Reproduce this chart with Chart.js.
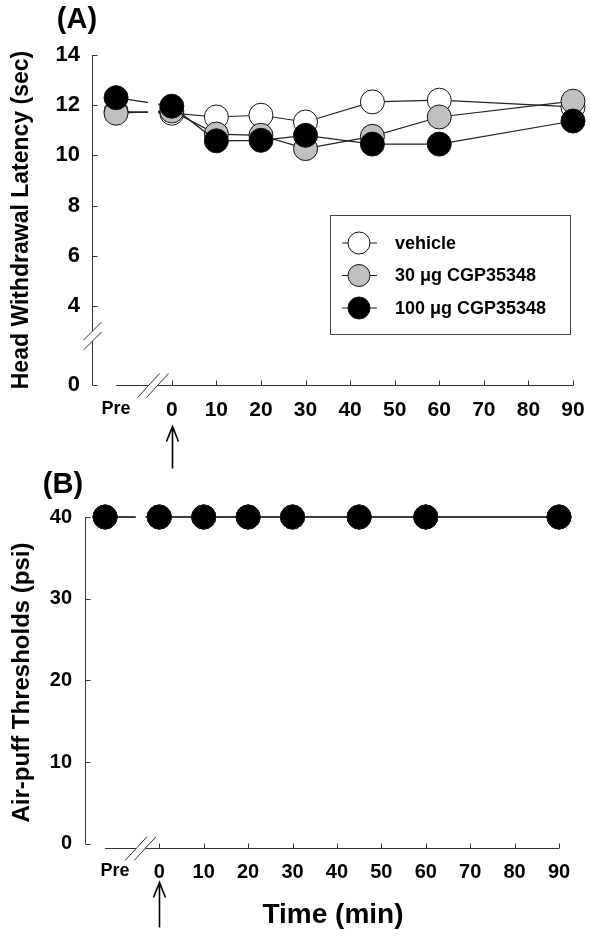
<!DOCTYPE html>
<html>
<head>
<meta charset="utf-8">
<title>CGP35348 - latency and air-puff thresholds</title>
<script src="https://cdn.jsdelivr.net/npm/chart.js@4"></script>
<style>
  body { margin: 0; background: #fff; }
  #wrap { position: relative; width: 598px; height: 936px; }
  #chartA { position: absolute; left: 0; top: 0; }
  #chartB { position: absolute; left: 0; top: 460px; }
</style>
</head>
<body>
<div id="wrap">
  <canvas id="chartA" width="598" height="475"></canvas>
  <canvas id="chartB" width="598" height="476"></canvas>
</div>

<script>
const FONT = "Arial, 'Liberation Sans', Helvetica, sans-serif";

// time points (min); "Pre" sits left of the broken x axis
const timePoints = ['Pre', 0, 10, 20, 30, 45, 60, 90];
const xTicks = [0, 10, 20, 30, 40, 50, 60, 70, 80, 90];
const seriesNames = ['vehicle', '30 \u03bcg CGP35348', '100 \u03bcg CGP35348'];

// (A) head withdrawal latency (sec)
const vehicleA = [11.75, 11.68, 11.53, 11.6, 11.33, 12.13, 12.2, 11.93];
const cgp30A = [11.68, 11.77, 10.85, 10.8, 10.27, 10.76, 11.53, 12.16];
const cgp100A = [12.3, 11.96, 10.58, 10.6, 10.8, 10.45, 10.45, 11.37];
const yTicksA = [0, 4, 6, 8, 10, 12, 14];

// (B) air-puff thresholds (psi)
const vehicleB = [40, 40, 40, 40, 40, 40, 40, 40];
const cgp30B = [40, 40, 40, 40, 40, 40, 40, 40];
const cgp100B = [40, 40, 40, 40, 40, 40, 40, 40];
const yTicksB = [0, 10, 20, 30, 40];

// axis layout (minutes on the x scale, values on the y scale)
const PRE_A = -12.5, PRE_B = -12.2, PRE_LABEL_B = -10;
const X_BREAK = -4.2;
const Y_ZERO_A = 0.85;   // where "0" sits on the truncated y axis of (A)
const Y_BREAK_A = 2.8;

const fills = ['#ffffff', '#c0c0c0', '#000000'];

function series(i, values, pre) {
  return {
    label: seriesNames[i],
    data: values.map((v, k) => ({ x: timePoints[k] === 'Pre' ? pre : timePoints[k], y: v })),
    borderColor: '#222',
    borderWidth: 1.2,
    backgroundColor: fills[i],
    pointBackgroundColor: fills[i],
    pointBorderColor: '#111',
    pointBorderWidth: 1,
    pointRadius: 12,
    pointHoverRadius: 12,
    tension: 0,
    clip: false,
    order: 2 - i   // black drawn last, on top
  };
}

const brokenAxes = {
  id: 'brokenAxes',
  beforeDatasetsDraw(chart, args, o) {
    // leave a gap in the lines where the x axis is broken
    const bx = chart.scales.x.getPixelForValue(X_BREAK);
    chart.ctx.save();
    chart.ctx.beginPath();
    chart.ctx.rect(0, 0, bx - 5, chart.height);
    chart.ctx.rect(bx + 5, 0, chart.width, chart.height);
    chart.ctx.clip();
  },
  afterDatasetsDraw(chart) {
    chart.ctx.restore();
  },
  afterDraw(chart, args, o) {
    const { ctx, chartArea: a, scales: { x, y } } = chart;
    ctx.save();
    ctx.strokeStyle = '#333';
    ctx.lineWidth = 1;

    // y axis with inward ticks
    const ax = Math.round(a.left) + 0.5;
    const yTop = y.getPixelForValue(o.yTicks[o.yTicks.length - 1]);
    const yBot = y.getPixelForValue(o.yTicks[0]);
    ctx.beginPath();
    let by = null;
    if (o.yBreak != null) {
      by = y.getPixelForValue(o.yBreak);
      ctx.moveTo(ax, yTop); ctx.lineTo(ax, by - 5);
      ctx.moveTo(ax, by + 5); ctx.lineTo(ax, yBot);
    } else {
      ctx.moveTo(ax, yTop); ctx.lineTo(ax, yBot);
    }
    o.yTicks.forEach(v => {
      const py = Math.round(y.getPixelForValue(v)) + 0.5;
      ctx.moveTo(ax, py); ctx.lineTo(ax + 5, py);
    });

    // x axis, starting at "Pre", broken before 0
    const axY = Math.round(y.getPixelForValue(o.xAxisAt)) + 0.5;
    const x0 = x.getPixelForValue(o.xStart);
    const x1 = x.getPixelForValue(xTicks[xTicks.length - 1]);
    const bx = x.getPixelForValue(X_BREAK);
    ctx.moveTo(x0, axY); ctx.lineTo(bx - 4.5, axY);
    ctx.moveTo(bx + 4.5, axY); ctx.lineTo(x1, axY);
    xTicks.forEach(v => {
      const px = Math.round(x.getPixelForValue(v)) + 0.5;
      ctx.moveTo(px, axY); ctx.lineTo(px, axY - 5);
    });
    ctx.stroke();

    // break marks
    ctx.beginPath();
    [-4.5, 4.5].forEach(d => {
      ctx.moveTo(bx + d - 11, axY + 12); ctx.lineTo(bx + d + 11, axY - 12);
    });
    if (by != null) {
      [-5, 5].forEach(d => {
        ctx.moveTo(ax - 9, by + d + 9); ctx.lineTo(ax + 9, by + d - 9);
      });
    }
    ctx.stroke();

    // injection arrow under 0
    const zx = Math.round(x.getPixelForValue(0)) + 0.5;
    const tip = axY + o.arrow[0];
    ctx.beginPath();
    ctx.strokeStyle = '#000';
    ctx.lineWidth = 1.6;
    ctx.moveTo(zx, tip); ctx.lineTo(zx, axY + o.arrow[1]);
    ctx.moveTo(zx - 6, tip + 15); ctx.lineTo(zx, tip); ctx.lineTo(zx + 6, tip + 15);
    ctx.stroke();

    // panel letter
    ctx.fillStyle = '#000';
    ctx.font = 'bold 29px ' + FONT;
    ctx.textAlign = 'center';
    ctx.textBaseline = 'middle';
    ctx.fillText(o.panel[0], o.panel[1], o.panel[2]);

    if (o.legend) {
      const [lx, ly, lw, lh] = o.legend;
      ctx.strokeStyle = '#444';
      ctx.lineWidth = 1;
      ctx.strokeRect(lx + 0.5, ly + 0.5, lw, lh);
      ctx.font = 'bold 18px ' + FONT;
      ctx.textAlign = 'left';
      chart.data.datasets.forEach((ds, i) => {
        const ry = ly + 28 + i * 32.5;
        ctx.beginPath();
        ctx.strokeStyle = '#222';
        ctx.lineWidth = 1.2;
        ctx.moveTo(lx + 12, ry); ctx.lineTo(lx + 47, ry);
        ctx.stroke();
        ctx.beginPath();
        ctx.arc(lx + 29, ry, 11, 0, Math.PI * 2);
        ctx.fillStyle = ds.pointBackgroundColor;
        ctx.fill();
        ctx.strokeStyle = '#111';
        ctx.lineWidth = 1;
        ctx.stroke();
        ctx.fillStyle = '#000';
        ctx.fillText(ds.label, lx + 65, ry + 1);
      });
    }

    if (o.timeTitle) {
      ctx.fillStyle = '#000';
      ctx.font = 'bold 28px ' + FONT;
      ctx.textAlign = 'center';
      ctx.fillText(o.timeTitle[0], o.timeTitle[1], o.timeTitle[2]);
    }
    ctx.restore();
  }
};

function makeChart(id, cfg) {
  return new Chart(document.getElementById(id), {
    type: 'line',
    data: { datasets: cfg.datasets },
    plugins: [brokenAxes],
    options: {
      responsive: false,
      animation: false,
      events: [],
      layout: { padding: { top: cfg.padTop, right: cfg.padRight, left: 0, bottom: 0 } },
      scales: {
        x: {
          type: 'linear',
          min: cfg.xMin,
          max: 90,
          grid: { display: false, drawTicks: false },
          border: { display: false },
          afterFit: s => { s.height = cfg.xHeight; },
          afterBuildTicks: s => { s.ticks = [cfg.preLabel].concat(xTicks).map(v => ({ value: v })); },
          ticks: {
            autoSkip: false,
            maxRotation: 0,
            padding: cfg.xPad,
            color: '#000',
            font: c => ({ family: FONT, weight: 'bold', size: c.tick && c.tick.value === cfg.preLabel ? 18 : cfg.xFont }),
            callback: v => v === cfg.preLabel ? 'Pre' : String(v)
          }
        },
        y: {
          type: 'linear',
          min: cfg.yMin,
          max: cfg.yMax,
          grid: { display: false, drawTicks: false },
          border: { display: false },
          afterFit: s => { s.width = cfg.yWidth; },
          afterBuildTicks: s => { s.ticks = cfg.yTicks.map(v => ({ value: v })); },
          ticks: {
            padding: cfg.yPad,
            color: '#000',
            font: { family: FONT, weight: 'bold', size: cfg.yFont },
            callback: v => v === Y_ZERO_A && cfg.truncated ? '0' : String(v)
          },
          title: {
            display: true,
            text: cfg.yTitle,
            color: '#000',
            font: { family: FONT, weight: 'bold', size: cfg.yTitleSize },
            padding: { top: 8, bottom: 0 }
          }
        }
      },
      plugins: {
        legend: { display: false },
        tooltip: { enabled: false },
        brokenAxes: cfg.deco
      }
    }
  });
}

const yTicksAxisA = yTicksA.map(v => v === 0 ? Y_ZERO_A : v);

makeChart('chartA', {
  datasets: [series(0, vehicleA, PRE_A), series(1, cgp30A, PRE_A), series(2, cgp100A, PRE_A)],
  padTop: 55, padRight: 25, xMin: -17.9, xHeight: 90, xPad: 13, xFont: 21,
  preLabel: PRE_A,
  yMin: Y_ZERO_A, yMax: 14, yTicks: yTicksAxisA, truncated: true,
  yWidth: 92, yPad: 12, yFont: 22,
  yTitle: 'Head Withdrawal Latency (sec)', yTitleSize: 23,
  deco: {
    yTicks: yTicksAxisA, yBreak: Y_BREAK_A, xAxisAt: Y_ZERO_A, xStart: PRE_A,
    arrow: [41, 83], panel: ['(A)', 77, 20],
    legend: [330, 215, 240, 119]
  }
});

makeChart('chartB', {
  datasets: [series(0, vehicleB, PRE_B), series(1, cgp30B, PRE_B), series(2, cgp100B, PRE_B)],
  padTop: 57, padRight: 39, xMin: -16.73, xHeight: 88, xPad: 12, xFont: 20,
  preLabel: PRE_LABEL_B,
  yMin: -0.5, yMax: 40, yTicks: yTicksB, truncated: false,
  yWidth: 85, yPad: 13, yFont: 20,
  yTitle: 'Air-puff Thresholds (psi)', yTitleSize: 24,
  deco: {
    yTicks: yTicksB, yBreak: null, xAxisAt: -0.5, xStart: PRE_B,
    arrow: [34, 79], panel: ['(B)', 63, 25],
    legend: null, timeTitle: ['Time (min)', 333, 455]
  }
});
</script>
</body>
</html>
